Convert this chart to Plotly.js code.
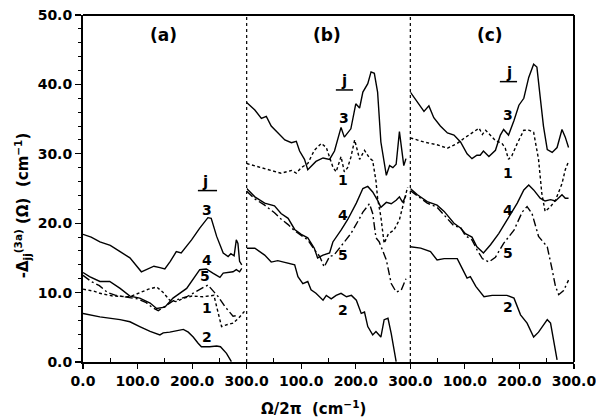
<!DOCTYPE html>
<html><head><meta charset="utf-8">
<script src="https://cdn.plot.ly/plotly-3.0.1.min.js"></script>
<style>html,body{margin:0;padding:0;background:#fff}#chart{width:596px;height:417px}</style>
</head><body><div id="chart"></div>
<script>
// ---------- panel (a) ----------
const a1_x = [0, 20, 31, 55, 86, 107, 120, 135, 146, 159, 170, 185, 200, 220, 240, 248, 254, 265, 275, 285, 296];
const a1_y = [10.5, 10.2, 9.9, 9.5, 9.4, 10.1, 10.5, 10.8, 10.1, 8.9, 8.7, 9.2, 9.5, 9.4, 9.6, 7.0, 5.1, 5.4, 5.6, 6.3, 7.3];
const a2_x = [0, 31, 68, 86, 104, 123, 141, 147, 159, 171, 184, 193, 202, 211, 217, 232, 245, 252, 263, 272];
const a2_y = [7.0, 6.5, 6.1, 5.8, 5.1, 4.4, 3.9, 4.2, 4.3, 4.5, 4.7, 4.3, 3.6, 2.7, 2.2, 2.2, 2.3, 2.2, 1.25, 0.05];
const a3_x = [0, 15, 31, 50, 68, 86, 107, 116, 130, 141, 150, 160, 171, 180, 199, 214, 229, 235, 245, 257, 266, 271, 277, 281, 284, 287, 291];
const a3_y = [18.4, 18.0, 17.3, 16.8, 15.9, 15.0, 13.0, 13.3, 13.8, 13.6, 13.4, 14.5, 15.9, 15.7, 17.6, 19.3, 20.8, 20.7, 18.1, 15.7, 15.2, 15.6, 15.3, 17.6, 17.1, 14.5, 14.0];
const a4_x = [0, 12, 31, 49, 68, 86, 104, 123, 135, 150, 165, 190, 214, 226, 238, 251, 257, 275, 281, 287, 291];
const a4_y = [12.9, 12.3, 11.6, 11.6, 10.6, 9.5, 9.2, 8.5, 7.7, 7.9, 9.2, 10.6, 13.3, 13.4, 12.8, 12.2, 12.8, 13.0, 13.3, 13.0, 13.5];
const a5_x = [0, 15, 30, 45, 60, 80, 100, 115, 128, 138, 150, 165, 190, 212, 229, 240, 248, 260, 275, 282];
const a5_y = [12.5, 11.6, 11.0, 10.0, 9.6, 9.4, 9.1, 8.6, 7.8, 7.4, 8.0, 8.8, 9.4, 10.3, 11.1, 10.1, 9.4, 8.0, 6.6, 6.7];
// ---------- panel (b) ----------
const b1_x = [0, 33, 63, 82, 91, 100, 112, 124, 137, 146, 158, 164, 173, 179, 185, 191, 198, 207, 216, 225, 231, 237, 240, 246, 252, 260, 270, 280, 289, 295];
const b1_y = [28.6, 27.9, 27.2, 27.6, 27.2, 28.0, 28.6, 30.5, 31.5, 30.9, 28.1, 27.4, 29.6, 27.4, 28.0, 29.5, 32.0, 29.2, 30.5, 29.4, 29.0, 26.1, 23.6, 20.9, 17.1, 18.5, 19.0, 20.5, 23.3, 25.2];
const b2_x = [0, 15, 33, 45, 57, 76, 88, 94, 103, 112, 118, 127, 140, 146, 155, 164, 173, 183, 192, 201, 210, 216, 222, 231, 237, 246, 252, 259, 265, 274];
const b2_y = [16.4, 16.4, 15.4, 14.4, 14.6, 14.2, 14.0, 12.3, 11.3, 11.6, 10.4, 9.9, 8.9, 9.6, 9.1, 9.6, 9.9, 9.4, 9.6, 8.9, 7.0, 7.2, 5.1, 3.9, 4.4, 3.6, 6.1, 6.3, 4.1, 0.05];
const b3_x = [0, 15, 27, 36, 45, 57, 70, 82, 91, 97, 106, 112, 118, 127, 140, 152, 161, 167, 173, 179, 191, 200, 207, 213, 222, 228, 234, 240, 246, 256, 262, 268, 274, 280, 283, 288, 292];
const b3_y = [37.4, 36.3, 35.1, 35.4, 34.0, 33.1, 32.0, 31.6, 31.8, 30.4, 29.2, 27.7, 28.2, 28.9, 29.4, 29.2, 30.4, 32.1, 33.8, 32.4, 33.6, 37.2, 36.6, 38.9, 40.1, 41.8, 41.6, 38.9, 31.7, 26.9, 28.3, 28.0, 28.5, 33.2, 31.2, 28.3, 29.3];
const b4_x = [0, 15, 33, 51, 63, 76, 88, 100, 112, 124, 130, 140, 152, 158, 173, 185, 201, 213, 222, 231, 240, 246, 256, 265, 274, 280, 286, 292];
const b4_y = [25.0, 23.8, 22.9, 22.5, 21.4, 20.7, 19.1, 18.4, 17.9, 16.4, 15.0, 15.4, 15.7, 17.3, 19.0, 20.5, 22.9, 25.0, 25.3, 24.5, 23.3, 22.3, 23.0, 22.8, 23.3, 23.8, 23.0, 24.0];
const b5_x = [0, 15, 33, 51, 63, 76, 88, 100, 112, 124, 134, 142, 152, 160, 179, 191, 207, 213, 225, 231, 237, 243, 256, 265, 274, 283, 292];
const b5_y = [24.6, 23.5, 22.6, 21.5, 20.6, 19.8, 18.9, 18.2, 17.6, 16.2, 15.2, 13.7, 15.2, 15.4, 17.3, 18.5, 20.7, 21.6, 22.8, 21.4, 17.9, 17.3, 14.7, 11.3, 10.1, 10.3, 12.0];
// ---------- panel (c) ----------
const c1_x = [0, 25, 49, 68, 86, 98, 126, 132, 138, 156, 168, 174, 180, 186, 196, 208, 217, 226, 235, 241, 247, 257, 266, 278, 284, 290];
const c1_y = [32.3, 31.7, 31.3, 30.8, 31.5, 32.2, 33.7, 32.8, 33.4, 31.9, 31.5, 30.8, 29.2, 29.7, 31.5, 33.4, 33.4, 33.1, 29.2, 24.3, 21.7, 22.4, 23.3, 25.7, 27.7, 28.9];
const c2_x = [0, 19, 37, 49, 62, 86, 95, 104, 110, 120, 135, 150, 162, 177, 190, 202, 214, 226, 235, 251, 257, 263, 269];
const c2_y = [16.6, 16.4, 15.9, 14.7, 14.9, 14.9, 13.5, 12.1, 12.3, 10.9, 9.4, 9.6, 9.6, 9.6, 9.2, 6.8, 5.6, 3.6, 4.3, 6.1, 5.6, 2.7, 0.3];
const c3_x = [0, 13, 25, 34, 43, 55, 68, 80, 92, 104, 113, 122, 128, 134, 144, 156, 165, 171, 180, 190, 199, 208, 217, 226, 232, 238, 244, 251, 260, 269, 278, 284, 290];
const c3_y = [38.9, 37.4, 36.1, 36.9, 35.2, 34.0, 33.0, 32.7, 31.7, 30.0, 29.3, 29.8, 29.8, 30.4, 29.6, 30.5, 32.7, 33.5, 32.7, 34.8, 37.0, 38.0, 41.0, 42.9, 42.5, 38.2, 34.0, 30.6, 30.2, 30.9, 33.5, 32.4, 30.9];
const c4_x = [0, 13, 31, 49, 62, 80, 92, 101, 113, 122, 134, 147, 162, 177, 196, 208, 217, 226, 238, 247, 257, 266, 278, 284, 290];
const c4_y = [25.0, 24.1, 23.1, 22.6, 21.7, 20.0, 19.3, 18.5, 18.0, 16.6, 15.7, 16.9, 18.5, 20.5, 22.9, 24.8, 25.5, 24.8, 23.6, 23.2, 23.4, 23.2, 24.1, 23.6, 23.6];
const c5_x = [0, 13, 31, 49, 62, 80, 92, 101, 113, 122, 132, 144, 156, 171, 190, 205, 214, 223, 235, 251, 260, 266, 272, 281, 290];
const c5_y = [24.7, 23.9, 22.9, 22.3, 21.2, 19.6, 19.4, 18.2, 17.6, 16.2, 14.9, 14.4, 15.1, 17.1, 19.0, 21.6, 22.4, 21.4, 18.1, 16.6, 13.3, 10.9, 9.7, 10.3, 11.8];

// ---------- labels ----------
const panelNames = ['(a)', '(b)', '(c)'];
const seriesNames = ['1', '2', '3', '4', '5'];
const xTicks1 = [0, 100, 200, 300];
const xTickText1 = ['0.0', '100.0', '200.0', '300.0'];
const xTicksN = [100, 200, 300];
const xTickTextN = ['100.0', '200.0', '300.0'];
const yTicks = [0, 10, 20, 30, 40, 50];
const yTickText = ['0.0', '10.0', '20.0', '30.0', '40.0', '50.0'];

const data = {
  x: [[a1_x, a2_x, a3_x, a4_x, a5_x], [b1_x, b2_x, b3_x, b4_x, b5_x], [c1_x, c2_x, c3_x, c4_x, c5_x]],
  y: [[a1_y, a2_y, a3_y, a4_y, a5_y], [b1_y, b2_y, b3_y, b4_y, b5_y], [c1_y, c2_y, c3_y, c4_y, c5_y]]
};
const dashes = ['3px,2.5px', 'solid', 'solid', 'solid', '8px,3px,2px,3px'];
const axisIds = ['x', 'x2', 'x3'];

const traces = [];
for (let p = 0; p < 3; p++) {
  for (let s = 0; s < 5; s++) {
    traces.push({
      type: 'scatter', mode: 'lines',
      x: data.x[p][s], y: data.y[p][s],
      xaxis: axisIds[p], yaxis: 'y',
      name: panelNames[p] + ' j=' + seriesNames[s],
      line: {color: '#000', width: 1.4, dash: dashes[s], shape: 'linear'},
      hoverinfo: 'skip'
    });
  }
}

const FONT = 'DejaVu Sans, Liberation Sans, Arial, sans-serif';
const tickfont = {family: FONT, size: 14, color: '#000', weight: 'bold'};
function xax(domain, tv, tt) {
  return {
    domain: domain, range: [0, 300], anchor: 'y', fixedrange: true, automargin: false,
    ticklabeloverflow: 'allow',
    tickmode: 'array', tickvals: tv, ticktext: tt,
    ticks: 'outside', ticklen: 5, tickwidth: 1.2, tickcolor: '#000',
    minor: {tickmode: 'array', tickvals: [50, 150, 250], ticks: 'inside', ticklen: 4, tickwidth: 1, tickcolor: '#000'},
    showline: true, linewidth: 2, linecolor: '#000',
    showgrid: false, zeroline: false, tickfont: tickfont
  };
}

const layout = {
  width: 596, height: 417,
  margin: {l: 83, r: 22, t: 15, b: 55},
  paper_bgcolor: '#fff', plot_bgcolor: '#fff',
  showlegend: false, hovermode: false,
  xaxis: xax([0, 1/3], xTicks1, xTickText1),
  xaxis2: xax([1/3, 2/3], xTicksN, xTickTextN),
  xaxis3: xax([2/3, 1], xTicksN, xTickTextN),
  yaxis: {
    range: [0, 50], anchor: 'x', fixedrange: true, automargin: false,
    tickmode: 'array', tickvals: yTicks, ticktext: yTickText,
    ticks: 'outside', ticklen: 6, tickwidth: 1.2, tickcolor: '#000',
    minor: {tickmode: 'linear', tick0: 0, dtick: 2, ticks: 'outside', ticklen: 3, tickwidth: 1, tickcolor: '#000'},
    showline: true, linewidth: 2, linecolor: '#000',
    showgrid: false, zeroline: false, tickfont: tickfont
  },
  shapes: [
    {type: 'line', xref: 'paper', yref: 'paper', x0: 0, x1: 1, y0: 1, y1: 1, line: {color: '#000', width: 2}},
    {type: 'line', xref: 'paper', yref: 'paper', x0: 1, x1: 1, y0: 0, y1: 1, line: {color: '#000', width: 2}},
    {type: 'line', xref: 'paper', yref: 'paper', x0: 1/3, x1: 1/3, y0: 0, y1: 1, line: {color: '#000', width: 1.2, dash: 'dot'}},
    {type: 'line', xref: 'paper', yref: 'paper', x0: 2/3, x1: 2/3, y0: 0, y1: 1, line: {color: '#000', width: 1.2, dash: 'dot'}},
    {type: 'line', xref: 'paper', yref: 'paper', x0: 0.234, x1: 0.273, y0: 0.494, y1: 0.494, line: {color: '#000', width: 1.5}},
    {type: 'line', xref: 'paper', yref: 'paper', x0: 0.515, x1: 0.550, y0: 0.784, y1: 0.784, line: {color: '#000', width: 1.5}},
    {type: 'line', xref: 'paper', yref: 'paper', x0: 0.849, x1: 0.884, y0: 0.808, y1: 0.808, line: {color: '#000', width: 1.5}}
  ],
  annotations: []
};

function ann(text, x, y, size, extra) {
  return Object.assign({text: text, xref: 'paper', yref: 'paper', x: x, y: y,
    xanchor: 'center', yanchor: 'middle', showarrow: false,
    font: {family: FONT, size: size, color: '#000', weight: 'bold'}}, extra || {});
}
const A = layout.annotations;
A.push(ann(panelNames[0], 0.163, 0.942, 17));
A.push(ann(panelNames[1], 0.496, 0.942, 17));
A.push(ann(panelNames[2], 0.829, 0.942, 17));
// panel a series labels
A.push(ann('j', 0.248, 0.518, 15));
A.push(ann(seriesNames[2], 0.252, 0.438, 14));
A.push(ann(seriesNames[3], 0.252, 0.294, 14));
A.push(ann(seriesNames[4], 0.248, 0.247, 14));
A.push(ann(seriesNames[0], 0.252, 0.155, 14));
A.push(ann(seriesNames[1], 0.252, 0.073, 14));
// panel b
A.push(ann('j', 0.532, 0.810, 15));
A.push(ann(seriesNames[2], 0.532, 0.702, 14));
A.push(ann(seriesNames[0], 0.530, 0.524, 14));
A.push(ann(seriesNames[3], 0.530, 0.424, 14));
A.push(ann(seriesNames[4], 0.530, 0.308, 14));
A.push(ann(seriesNames[1], 0.530, 0.150, 14));
// panel c
A.push(ann('j', 0.868, 0.832, 15));
A.push(ann(seriesNames[2], 0.866, 0.712, 14));
A.push(ann(seriesNames[0], 0.866, 0.545, 14));
A.push(ann(seriesNames[3], 0.866, 0.438, 14));
A.push(ann(seriesNames[4], 0.866, 0.314, 14));
A.push(ann(seriesNames[1], 0.866, 0.159, 14));
// axis titles
A.push(ann('Ω/2π  (cm<sup>−1</sup>)', 0.470, -0.133, 15));
A.push(ann('-Δ<sub>jj</sub><sup>(3a)</sup> (Ω)  (cm<sup>−1</sup>)', -0.124, 0.452, 15, {textangle: -90}));

Plotly.newPlot('chart', traces, layout, {staticPlot: true, displayModeBar: false});
</script>
</body></html>
